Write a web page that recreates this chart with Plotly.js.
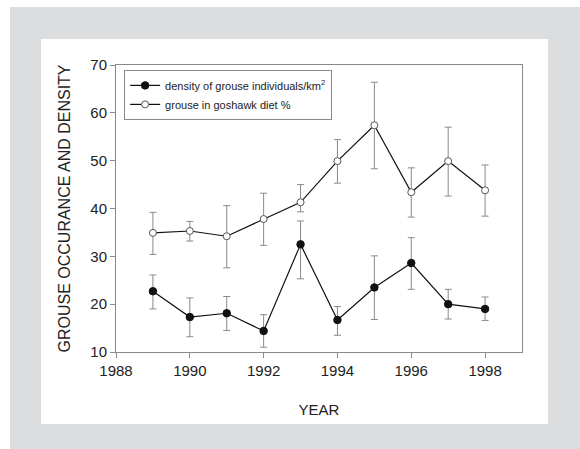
<!DOCTYPE html>
<html>
<head>
<meta charset="utf-8">
<script src="https://cdn.plot.ly/plotly-3.0.1.min.js"></script>
<style>
  html, body { margin: 0; padding: 0; background: #ffffff; }
  #wrap { position: relative; width: 580px; height: 449px; overflow: hidden; background: #ffffff; }
  #outer { position: absolute; left: 10px; top: 7px; width: 570px; height: 442px; background: #dcdddf; }
  #inner { position: absolute; left: 41px; top: 39px; width: 507px; height: 385px; background: #ffffff; }
  #chart { position: absolute; left: 0; top: 0; width: 580px; height: 449px; }
</style>
</head>
<body>
<div id="wrap">
  <div id="outer"></div>
  <div id="inner"></div>
  <div id="chart"></div>
</div>
<script>
const years = [1989, 1990, 1991, 1992, 1993, 1994, 1995, 1996, 1997, 1998];

// density of grouse individuals/km2
const density      = [22.7, 17.3, 18.1, 14.4, 32.5, 16.7, 23.5, 28.6, 20.0, 19.0];
const densityPlus  = [3.4, 4.0, 3.5, 3.4, 4.9, 2.8, 6.6, 5.3, 3.1, 2.5];
const densityMinus = [3.7, 4.1, 3.6, 3.4, 7.2, 3.2, 6.7, 5.5, 3.1, 2.4];

// grouse in goshawk diet %
const diet      = [34.9, 35.3, 34.2, 37.8, 41.3, 49.9, 57.4, 43.4, 49.9, 43.8];
const dietPlus  = [4.3, 2.0, 6.4, 5.4, 3.7, 4.5, 9.0, 5.1, 7.1, 5.3];
const dietMinus = [4.5, 2.1, 6.6, 5.5, 2.0, 4.6, 9.1, 5.2, 7.3, 5.4];

const seriesNames = ['density of grouse individuals/km<sup>2</sup>', 'grouse in goshawk diet %'];
const xTicks = [1988, 1990, 1992, 1994, 1996, 1998];
const yTicks = [10, 20, 30, 40, 50, 60, 70];

const errStyle = { color: '#8a8a8a', thickness: 1, width: 3.5 };

const traces = [
  {
    x: years, y: density, name: seriesNames[0], type: 'scatter', mode: 'lines+markers',
    line: { color: '#111111', width: 1.2 },
    marker: { symbol: 'circle', size: 7.5, color: '#111111', line: { color: '#111111', width: 1 } },
    error_y: Object.assign({ type: 'data', symmetric: false, array: densityPlus, arrayminus: densityMinus }, errStyle)
  },
  {
    x: years, y: diet, name: seriesNames[1], type: 'scatter', mode: 'lines+markers',
    line: { color: '#111111', width: 1.2 },
    marker: { symbol: 'circle', size: 7, color: '#ffffff', line: { color: '#555555', width: 1 } },
    error_y: Object.assign({ type: 'data', symmetric: false, array: dietPlus, arrayminus: dietMinus }, errStyle)
  }
];

const axisCommon = {
  showline: true, linecolor: '#8a8a8a', linewidth: 1, mirror: true,
  ticks: 'outside', ticklen: 5, tickcolor: '#8a8a8a', tickwidth: 1,
  showgrid: false, zeroline: false,
  tickfont: { family: 'Liberation Sans, Arial, sans-serif', size: 15, color: '#222222' }
};

const layout = {
  width: 580, height: 449,
  paper_bgcolor: 'rgba(0,0,0,0)', plot_bgcolor: 'rgba(0,0,0,0)',
  margin: { l: 116, r: 58, t: 65, b: 97 },
  showlegend: true,
  legend: {
    x: 0.02, y: 0.983, xanchor: 'left', yanchor: 'top',
    bgcolor: '#ffffff', bordercolor: '#8a8a8a', borderwidth: 1,
    font: { family: 'Liberation Sans, Arial, sans-serif', size: 11, color: '#222222' },
    tracegroupgap: 0, itemwidth: 30
  },
  xaxis: Object.assign({}, axisCommon, {
    range: [1988, 1999], tickvals: xTicks, ticktext: xTicks.map(String),
    title: { text: 'YEAR', font: { family: 'Liberation Sans, Arial, sans-serif', size: 15, color: '#222222' }, standoff: 26 }
  }),
  yaxis: Object.assign({}, axisCommon, {
    range: [10, 70], tickvals: yTicks, ticktext: yTicks.map(String),
    title: { text: 'GROUSE OCCURANCE AND DENSITY', font: { family: 'Liberation Sans, Arial, sans-serif', size: 16, color: '#222222' }, standoff: 15 }
  })
};

Plotly.newPlot('chart', traces, layout, { displayModeBar: false, staticPlot: true });
</script>
</body>
</html>
